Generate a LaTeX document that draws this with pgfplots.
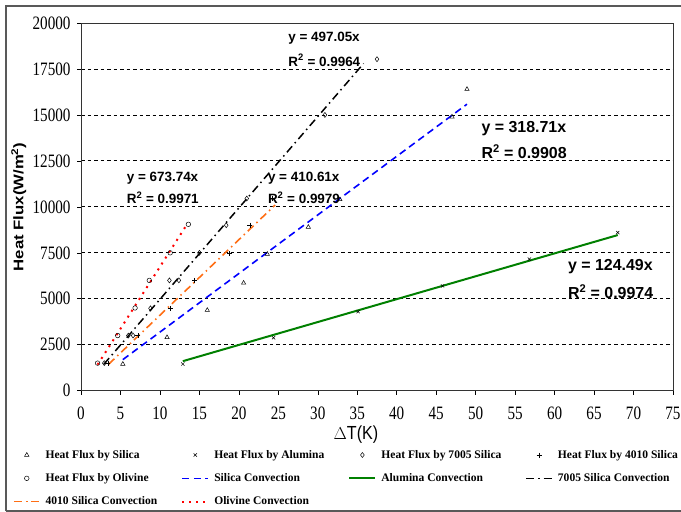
\documentclass[border=0pt]{standalone}
\usepackage{fontspec}
\setmainfont{Liberation Serif}
\newfontfamily\tickfontfam[FakeStretch=0.8]{Liberation Serif}
\newfontfamily\legfontfam{Liberation Serif}
\newfontfamily\eqfontfam{Liberation Sans}
\newfontfamily\xlabfontfam[FakeStretch=0.85]{Liberation Sans}
\newfontfamily\ylabfontfam[FakeStretch=1.2]{Liberation Sans}
\newcommand\tickfont{\tickfontfam\fontsize{19}{21}\selectfont}
\newcommand\legfont{\legfontfam\bfseries\fontsize{11.6}{14}\selectfont}
\newcommand\eqsmall{\eqfontfam\bfseries\fontsize{13.5}{15}\selectfont}
\newcommand\eqbig{\eqfontfam\bfseries\fontsize{16}{18}\selectfont}
\newcommand\xlabfont{\xlabfontfam\fontsize{19}{21}\selectfont}
\newcommand\ylabfont{\ylabfontfam\bfseries\fontsize{14}{16}\selectfont}
\usepackage{pgfplots}
\pgfplotsset{compat=1.18}
\definecolor{silblue}{RGB}{0,0,255}
\definecolor{algreen}{RGB}{0,128,0}
\definecolor{orng}{RGB}{255,110,20}
\begin{document}
\begin{tikzpicture}
\fill[white] (0bp,0bp) rectangle (681bp,512bp);
\useasboundingbox (0bp,0bp) rectangle (681bp,512bp);
\begin{axis}[
  at={(81bp,121.3bp)}, anchor=south west,
  scale only axis, width=592bp, height=367.7bp,
  xmin=0, xmax=75, ymin=0, ymax=20000,
  xtick={0,5,...,75}, ytick={0,2500,...,20000},
  scaled y ticks=false, scaled x ticks=false,
  tick align=outside, tick pos=left, major tick length=4bp,
  tick style={black, line width=0.6pt},
  axis line style={black!80, line width=0.9pt},
  /pgf/number format/assume math mode=true,
  /pgf/number format/1000 sep={},
  ticklabel style={font=\tickfont},
  yticklabel style={xshift=-3bp},
  xticklabel style={yshift=-11bp, text depth=0pt, inner ysep=1bp},
  ymajorgrids,
  grid style={black, line width=0.8pt, dash pattern=on 3.5bp off 3bp},
  xlabel={$\Delta$T(K)},
  xlabel style={font=\xlabfont, at={(axis description cs:0.4645,-0.1206)}, anchor=center, inner sep=0pt},
  ylabel={Heat Flux(W/m\textsuperscript{2})},
  every axis y label/.style={at={(axis description cs:-0.1052,0.5)}, rotate=90, anchor=center, font=\ylabfont},
  legend columns=4,
  legend cell align=left,
  legend image code/.code={\draw[mark repeat=2,mark phase=2,#1] plot coordinates {(0bp,0bp)(13bp,0bp)(26bp,0bp)};},
  legend style={at={(axis description cs:-0.1149,-0.1586)}, anchor=north west,
    draw=none, fill=none, inner sep=0pt, outer sep=0pt, row sep=11.3bp,
    font=\legfont,
    nodes={inner xsep=1bp, inner ysep=0pt, text height=9bp, text depth=3bp, font=\legfont},
    /tikz/every odd column/.append style={column sep=4bp},
    /tikz/every even column/.append style={column sep=23bp}},
  clip=false,
]
% marks
\addplot[only marks, mark=triangle, mark size=2.5pt, mark options={black, line width=0.5pt}] coordinates {
 (5.3,1450) (10.9,2900) (16.0,4380) (20.6,5860) (23.6,7430) (28.8,8900) (32.8,10400) (47.0,14900) (48.9,16400)};
\addlegendentry{Heat Flux by Silica}
\addplot[only marks, mark=x, mark size=2.3pt, mark options={black, line width=0.5pt}] coordinates {
 (12.9,1450) (24.4,2880) (35.1,4300) (45.8,5700) (56.8,7160) (68.0,8600)};
\addlegendentry{Heat Flux by Alumina}
\addplot[only marks, mark=diamond, mark size=2.5pt, mark options={black, line width=0.5pt}] coordinates {
 (2.95,1500) (6.0,3000) (6.6,3000) (8.8,4480) (11.2,6000) (12.4,6000) (15.0,7500) (18.4,9000) (21.0,10450) (30.9,15000) (37.5,18030)};
\addlegendentry{Heat Flux by 7005 Silica}
\addplot[only marks, mark=+, mark size=2.5pt, mark options={black, line width=0.6pt}] coordinates {
 (3.4,1500) (7.2,3000) (11.3,4480) (14.4,6000) (18.8,7450) (21.4,9000) (24.2,10460)};
\addlegendentry{Heat Flux by 4010 Silica}
\addplot[only marks, mark=o, mark size=2.3pt, mark options={black, line width=0.5pt}] coordinates {
 (2.1,1500) (4.65,3000) (6.85,4500) (8.65,6000) (11.3,7500) (13.6,9050)};
\addlegendentry{Heat Flux by Olivine}
% trend lines
\addplot[silblue, line width=1.6pt, dash pattern=on 7bp off 4.5bp] coordinates {(5.3,1689.2) (48.9,15584.9)};
\addlegendentry{Silica Convection}
\addplot[algreen, line width=2pt] coordinates {(12.9,1605.9) (68.0,8465.3)};
\addlegendentry{Alumina Convection}
\addplot[black, line width=1.5pt, dash pattern=on 8bp off 4bp on 1.5bp off 4bp] coordinates {(2.9,1441.4) (35.8,17794.4)};
\addlegendentry{7005 Silica Convection}
\addplot[orng, line width=1.6pt, dash pattern=on 8bp off 4bp on 1.5bp off 4bp] coordinates {(3.5,1437.1) (24.6,10101.0)};
\addlegendentry{4010 Silica Convection}
\addplot[red, line width=2pt, dash pattern=on 2bp off 5bp] coordinates {(2.1,1414.9) (13.4,9028.1)};
\addlegendentry{Olivine Convection}
% equations
\begin{scope}[every node/.style={anchor=west, inner sep=0pt}]
\node[font=\eqsmall] at (axis cs:5.78,11553) {y = 673.74x};
\node[font=\eqsmall] at (axis cs:5.78,10481) {R\textsuperscript{2} = 0.9971};
\node[font=\eqsmall] at (axis cs:23.67,11553) {y = 410.61x};
\node[font=\eqsmall] at (axis cs:23.67,10481) {R\textsuperscript{2} = 0.9979};
\node[font=\eqsmall] at (axis cs:26.24,19168) {y = 497.05x};
\node[font=\eqsmall] at (axis cs:26.24,17975) {R\textsuperscript{2} = 0.9964};
\node[font=\eqbig] at (axis cs:50.72,14272) {y = 318.71x};
\node[font=\eqbig] at (axis cs:50.72,13000) {R\textsuperscript{2} = 0.9908};
\node[font=\eqbig] at (axis cs:61.68,6745) {y = 124.49x};
\node[font=\eqbig] at (axis cs:61.68,5385) {R\textsuperscript{2} = 0.9974};
\end{scope}
\end{axis}
\draw[black!65, line width=1.3pt] (6bp,1bp) -- (6bp,506bp) -- (690bp,506bp);
\draw[black!65, line width=1.3pt] (6bp,1bp) -- (690bp,1bp);
\end{tikzpicture}
\end{document}
